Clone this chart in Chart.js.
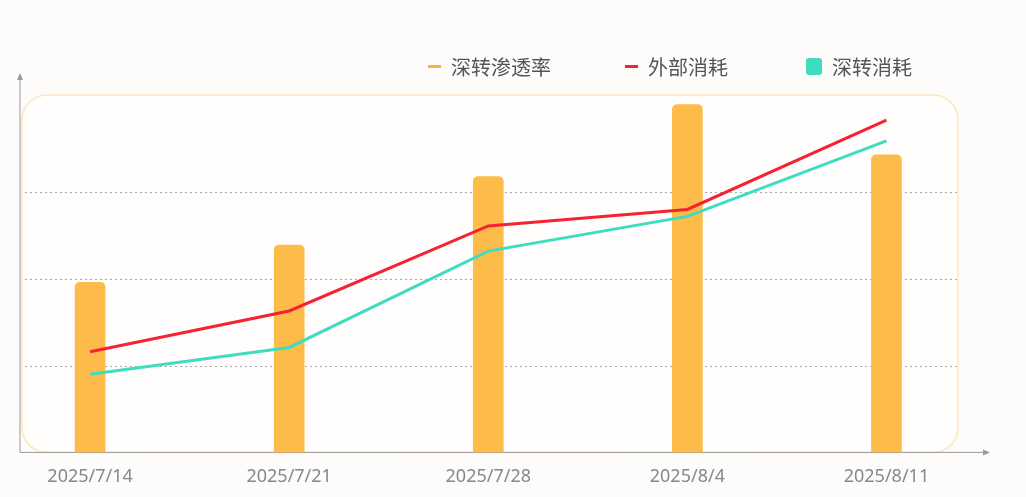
<!DOCTYPE html>
<html>
<head>
<script src="https://cdn.jsdelivr.net/npm/chart.js"></script>
<style>
  body { margin: 0; background: #fdfcfb; font-family: "Noto Sans CJK SC", "Noto Sans", sans-serif; }
  #wrap { position: relative; width: 1026px; height: 497px; }
  .lg { position: absolute; top: 52px; font-size: 20px; color: #555; display: flex; align-items: center; }
  .dash { width: 13px; height: 3px; margin-right: 10px; }
  .sq { width: 16px; height: 17px; border-radius: 3px; margin-right: 10px; }
</style>
</head>
<body>
<div id="wrap">
  <canvas id="c" width="1026" height="497"></canvas>
  <div class="lg" style="left:428px"><span class="dash" style="background:#fdae46"></span>深转渗透率</div>
  <div class="lg" style="left:625px"><span class="dash" style="background:#f52233"></span>外部消耗</div>
  <div class="lg" style="left:806px"><span class="sq" style="background:#3fdcc0"></span>深转消耗</div>
</div>
<script>
const labels = ['2025/7/14', '2025/7/21', '2025/7/28', '2025/8/4', '2025/8/11'];
const penetration = [1.96, 2.39, 3.18, 4.01, 3.43];
const externalCost = [1.16, 1.63, 2.61, 2.80, 3.83];
const deepCost = [0.90, 1.21, 2.32, 2.72, 3.59];

const pts = arr => arr.map((v, i) => ({ x: i, y: v }));

const decor = {
  id: 'decor',
  beforeDatasetsDraw(chart) {
    const { ctx, scales: { x, y } } = chart;
    const b = y.getPixelForValue(0);
    ctx.save();
    // rounded background box
    ctx.beginPath();
    ctx.roundRect(22, 95, 936, b - 95, 25);
    ctx.fillStyle = '#fffefd';
    ctx.fill();
    ctx.strokeStyle = '#fde6bd';
    ctx.lineWidth = 1.5;
    ctx.stroke();
    // dotted grid
    ctx.setLineDash([2, 3]);
    ctx.strokeStyle = '#aaa';
    ctx.lineWidth = 1;
    [1, 2, 3].forEach(v => {
      const py = Math.round(y.getPixelForValue(v)) + 0.5;
      ctx.beginPath(); ctx.moveTo(25, py); ctx.lineTo(958, py); ctx.stroke();
    });
    ctx.setLineDash([]);
    // axes with arrows
    ctx.strokeStyle = '#999';
    ctx.fillStyle = '#999';
    ctx.beginPath(); ctx.moveTo(20, b); ctx.lineTo(985, b); ctx.stroke();
    ctx.beginPath(); ctx.moveTo(20, b); ctx.lineTo(20, 78); ctx.stroke();
    ctx.beginPath(); ctx.moveTo(990, b); ctx.lineTo(983, b - 3); ctx.lineTo(983, b + 3); ctx.fill();
    ctx.beginPath(); ctx.moveTo(20, 73); ctx.lineTo(17, 80); ctx.lineTo(23, 80); ctx.fill();
    ctx.restore();
  }
};

new Chart(document.getElementById('c'), {
  data: {
    datasets: [
      { type: 'line', label: '外部消耗', data: pts(externalCost), borderColor: '#f52233', borderWidth: 3, pointRadius: 0, tension: 0 },
      { type: 'line', label: '深转消耗', data: pts(deepCost), borderColor: '#3fdcc0', borderWidth: 3, pointRadius: 0, tension: 0 },
      { type: 'bar', label: '深转渗透率', data: pts(penetration), backgroundColor: '#fdbb4a', barThickness: 30, borderRadius: { topLeft: 5, topRight: 5 }, borderSkipped: false }
    ]
  },
  options: {
    responsive: false,
    animation: false,
    layout: { padding: { left: 20, right: 38, top: 75, bottom: 3 } },
    plugins: { legend: { display: false }, tooltip: { enabled: false } },
    scales: {
      x: {
        type: 'linear', min: -0.352, max: 4.51, offset: false,
        afterBuildTicks: s => { s.ticks = labels.map((_, i) => ({ value: i })); },
        ticks: { callback: v => labels[v], color: '#888', font: { size: 18, family: 'Noto Sans' }, padding: 6, maxRotation: 0, autoSkip: false },
        grid: { display: false }, border: { display: false }
      },
      y: { display: false, min: 0, max: 4.35 }
    }
  },
  plugins: [decor]
});
</script>
</body>
</html>
